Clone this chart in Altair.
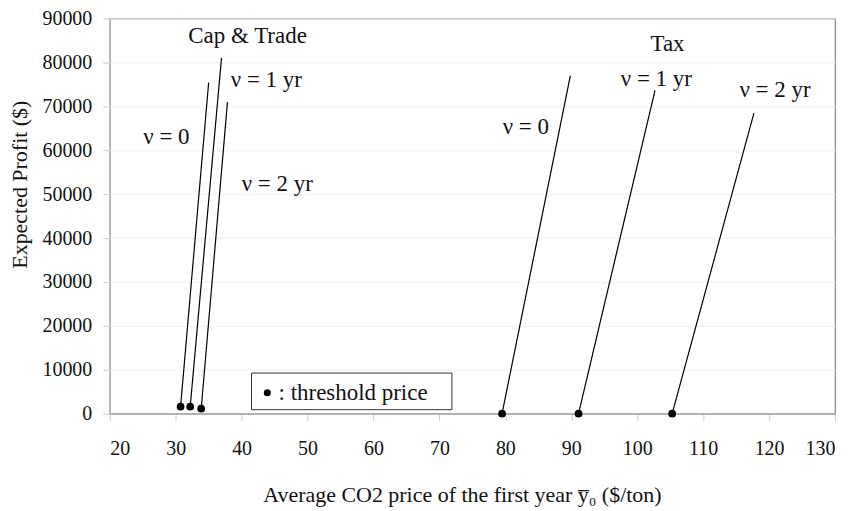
import altair as alt
import pandas as pd

# One straight segment per curve: from the threshold point to the top end
series = ["C&T v=0", "C&T v=1", "C&T v=2", "Tax v=0", "Tax v=1", "Tax v=2"]
threshold_price = [30.74, 32.2, 33.87, 79.5, 91.1, 105.3]
threshold_profit = [1570, 1570, 1120, 0, 0, 0]
end_price = [35.0, 36.95, 37.85, 89.86, 102.7, 117.7]
end_profit = [75440, 81040, 70970, 77000, 73650, 68440]

label_text = ["Cap & Trade", "ν = 0", "ν = 1 yr", "ν = 2 yr", "Tax", "ν = 0", "ν = 1 yr", "ν = 2 yr"]
label_x = [40.9, 28.6, 43.75, 45.4, 104.6, 83.1, 102.9, 120.9]
label_y = [85970, 63130, 75890, 52380, 84170, 65370, 76340, 73650]

rows = []
for s, x0, y0, x1, y1 in zip(series, threshold_price, threshold_profit, end_price, end_profit):
    rows.append({"series": s, "x": x0, "y": y0, "o": 0})
    rows.append({"series": s, "x": x1, "y": y1, "o": 1})
lines_df = pd.DataFrame(rows)
pts_df = pd.DataFrame({"series": series, "x": threshold_price, "y": threshold_profit})
lab_df = pd.DataFrame({"t": label_text, "x": label_x, "y": label_y})

font = "Liberation Serif"
xs = alt.Scale(domain=[20, 130], nice=False)
ys = alt.Scale(domain=[0, 90000], nice=False)

xax = alt.Axis(values=list(range(20, 131, 10)), title="Average CO2 price of the first year y\u0305\u2080 ($/ton)",
               grid=False, labelFont=font, labelFontSize=20, titleFont=font, titleFontSize=22,
               titleFontWeight="normal", labelColor="#111", titleColor="#111", domainColor="#999",
               tickColor="#ccc", tickSize=7, labelPadding=18,
               titleX=353, titleY=81, titleBaseline="middle", titleAlign="center")
yax = alt.Axis(values=list(range(0, 90001, 10000)), format="d", title="Expected Profit ($)", grid=True,
               gridColor="#f0f0f0", labelFont=font, labelFontSize=20, titleFont=font, titleFontSize=22,
               titleFontWeight="normal", labelColor="#111", titleColor="#111", domain=False,
               tickColor="#ccc", tickSize=7, labelPadding=11,
               titleX=-90, titleY=166, titleBaseline="middle", titleAlign="center")

lines = alt.Chart(lines_df).mark_line(color="black", strokeWidth=1.2).encode(
    x=alt.X("x:Q", scale=xs, axis=xax),
    y=alt.Y("y:Q", scale=ys, axis=yax),
    detail="series:N",
    order="o:Q",
)
pts = alt.Chart(pts_df).mark_point(filled=True, color="black", size=60, opacity=1).encode(
    x=alt.X("x:Q", scale=xs), y=alt.Y("y:Q", scale=ys)
)
labs = alt.Chart(lab_df).mark_text(font=font, fontSize=23, color="#111").encode(
    x=alt.X("x:Q", scale=xs), y=alt.Y("y:Q", scale=ys), text="t:N"
)

legend_box = pd.DataFrame({"x": [41.5], "x2": [71.9], "y": [900], "y2": [9250]})
box = alt.Chart(legend_box).mark_rect(fill="white", stroke="#333", strokeWidth=1).encode(
    x=alt.X("x:Q", scale=xs), x2="x2", y=alt.Y("y:Q", scale=ys), y2="y2"
)
leg_pt = alt.Chart(pd.DataFrame({"x": [43.9], "y": [4740]})).mark_point(
    filled=True, color="black", size=50, opacity=1).encode(x=alt.X("x:Q", scale=xs), y=alt.Y("y:Q", scale=ys))
leg_txt = alt.Chart(pd.DataFrame({"x": [45.6], "y": [4740], "t": [": threshold price"]})).mark_text(
    font=font, fontSize=23, align="left", color="#111").encode(
    x=alt.X("x:Q", scale=xs), y=alt.Y("y:Q", scale=ys), text="t:N")

chart = alt.layer(lines, box, leg_pt, leg_txt, pts, labs).properties(
    width=727, height=396,
    autosize=alt.AutoSizeParams(type="none"),
    padding={"left": 102, "top": 10, "right": 10, "bottom": 94},
).configure_view(stroke="#888", strokeWidth=1.2)

chart.save("out.html", embed_options={"renderer": "svg", "actions": False})
